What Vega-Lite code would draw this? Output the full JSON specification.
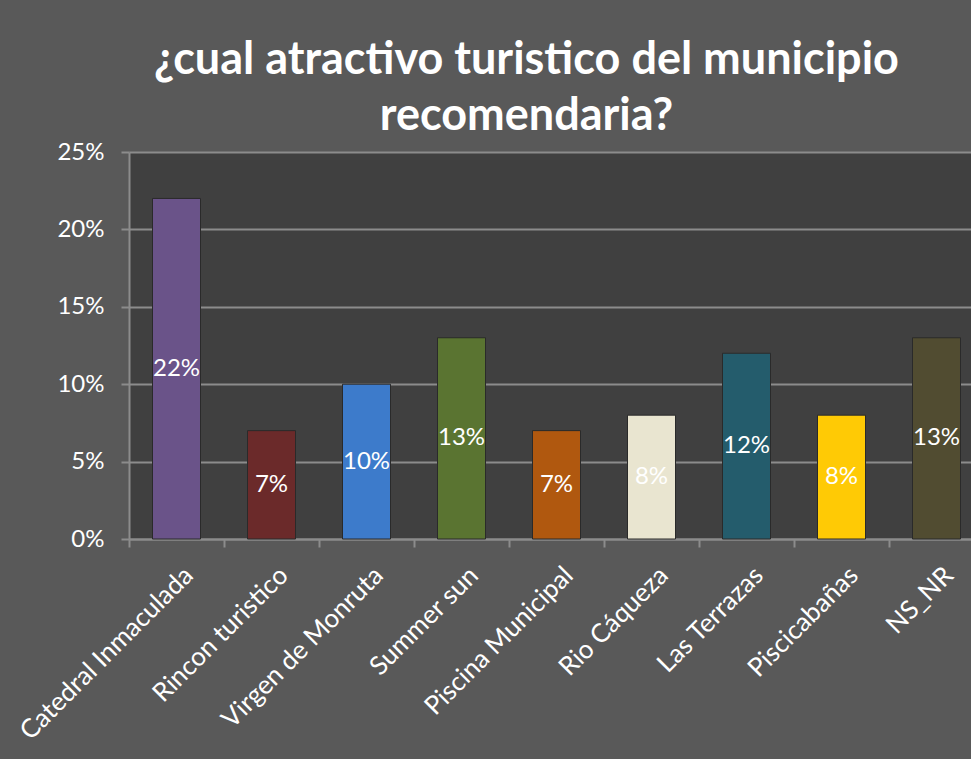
{
  "$schema": "https://vega.github.io/schema/vega-lite/v6.json",
  "autosize": "none",
  "width": 855,
  "height": 387,
  "padding": {"left": 129, "top": 152, "right": 0, "bottom": 220},
  "background": "#595959",
  "title": {
    "text": ["¿cual atractivo turistico del municipio", "recomendaria?"],
    "color": "#ffffff",
    "font": "Lato",
    "fontSize": 45,
    "fontWeight": "bold",
    "lineHeight": 56,
    "anchor": "middle",
    "frame": "group",
    "dx": -30,
    "offset": 1
  },
  "data": {
    "values": [
      {"lugar": "Catedral Inmaculada", "v": 0.22},
      {"lugar": "Rincon turistico", "v": 0.07},
      {"lugar": "Virgen de Monruta", "v": 0.10},
      {"lugar": "Summer sun", "v": 0.13},
      {"lugar": "Piscina Municipal", "v": 0.07},
      {"lugar": "Rio Cáqueza", "v": 0.08},
      {"lugar": "Las Terrazas", "v": 0.12},
      {"lugar": "Piscicabañas", "v": 0.08},
      {"lugar": "NS_NR", "v": 0.13}
    ]
  },
  "config": {
    "view": {"fill": "#404040", "stroke": null},
    "font": "Lato"
  },
  "layer": [
    {
      "mark": {"type": "bar", "width": 48, "stroke": "#2a2a2a", "strokeWidth": 1},
      "encoding": {
        "x": {
          "field": "lugar", "type": "nominal", "sort": null,
          "scale": {"paddingInner": 0, "paddingOuter": 0},
          "axis": {
            "title": null, "labelAngle": -45, "labelAlign": "right", "labelBaseline": "middle",
            "labelColor": "#ffffff", "labelFontSize": 26, "labelFont": "Lato", "labelPadding": 24,
            "labelOffset": 12,
            "domainColor": "#8c8c8c", "domainWidth": 2, "tickColor": "#8c8c8c", "tickWidth": 2,
            "tickSize": 8, "tickBand": "extent", "labelLimit": 400, "labelOverlap": false
          }
        },
        "y": {
          "field": "v", "type": "quantitative",
          "scale": {"domain": [0, 0.25], "nice": false},
          "axis": {
            "title": null, "format": ".0%", "values": [0, 0.05, 0.1, 0.15, 0.2, 0.25],
            "labelColor": "#ffffff", "labelFontSize": 24, "labelFont": "Lato", "labelPadding": 17,
            "domainColor": "#8c8c8c", "domainWidth": 2, "tickColor": "#8c8c8c", "tickWidth": 2,
            "tickSize": 8, "gridColor": "#8c8c8c", "gridWidth": 2, "grid": true
          }
        },
        "color": {
          "field": "lugar", "type": "nominal", "sort": null, "legend": null,
          "scale": {
            "domain": ["Catedral Inmaculada", "Rincon turistico", "Virgen de Monruta", "Summer sun", "Piscina Municipal", "Rio Cáqueza", "Las Terrazas", "Piscicabañas", "NS_NR"],
            "range": ["#6a5389", "#6b2a2a", "#3d7bcb", "#5a7431", "#b0580f", "#e9e5d0", "#245c6c", "#ffca05", "#514c31"]
          }
        }
      }
    },
    {
      "mark": {"type": "text", "color": "#ffffff", "fontSize": 24, "font": "Lato", "baseline": "middle"},
      "encoding": {
        "x": {"field": "lugar", "type": "nominal", "sort": null},
        "y": {
          "field": "v", "type": "quantitative",
          "scale": {"domain": [0, 0.5], "nice": false},
          "axis": null
        },
        "text": {"field": "v", "type": "quantitative", "format": ".0%"}
      }
    }
  ],
  "resolve": {"scale": {"y": "independent"}}
}
